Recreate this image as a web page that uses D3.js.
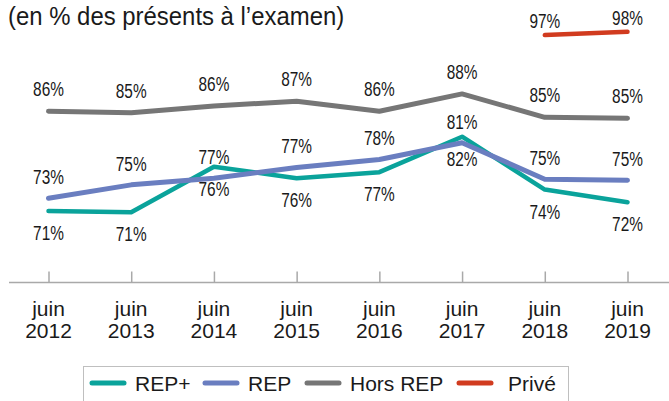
<!DOCTYPE html>
<html>
<head>
<meta charset="utf-8">
<script src="https://cdn.jsdelivr.net/npm/d3@7"></script>
<style>
  html, body { margin: 0; padding: 0; background: #fff; }
  svg { display: block; }
  text { font-family: "Liberation Sans", Arial, sans-serif; fill: #1a1a1a; }
</style>
</head>
<body>
<svg id="chart" width="669" height="401"></svg>
<script>
// ---- data ----
const years = ["2012", "2013", "2014", "2015", "2016", "2017", "2018", "2019"];
const monthLabel = "juin";
const repPlus = [70.7, 70.5, 77.3, 75.6, 76.5, 81.8, 73.9, 72.0];
const rep = [72.6, 74.6, 75.6, 77.2, 78.4, 80.9, 75.45, 75.3];
const horsRep = [85.6, 85.4, 86.4, 87.1, 85.6, 88.2, 84.7, 84.55];
const prive = [null, null, null, null, null, null, 97.0, 97.5];
const repPlusLabels = ["71%", "71%", "76%", "76%", "77%", "82%", "74%", "72%"];
const repLabels = ["73%", "75%", "77%", "77%", "78%", "81%", "75%", "75%"];
const horsRepLabels = ["86%", "85%", "86%", "87%", "86%", "88%", "85%", "85%"];
const priveLabels = [null, null, null, null, null, null, "97%", "98%"];
const seriesNames = ["REP+", "REP", "Hors REP", "Privé"];
const title = "(en % des présents à l\u2019examen)";
const yDomain = [60, 100];

// ---- layout ----
const svg = d3.select("#chart");
const x = d3.scalePoint().domain(years).range([48.5, 627.5]);
const y = d3.scaleLinear().domain(yDomain).range([282.5, 15]);

const series = [
  { name: seriesNames[0], values: repPlus, labels: repPlusLabels, color: "#0AA39B", width: 4.5, dy: 29 },
  { name: seriesNames[1], values: rep, labels: repLabels, color: "#6A7EC0", width: 5, dy: -14 },
  { name: seriesNames[2], values: horsRep, labels: horsRepLabels, color: "#767676", width: 5, dy: -15 },
  { name: seriesNames[3], values: prive, labels: priveLabels, color: "#D13B1F", width: 4.5, dy: -7 }
];

// title
svg.append("text").attr("transform", "translate(8,25) scale(0.92,1)")
  .attr("font-size", 26).text(title);

// x axis
const axis = d3.axisBottom(x).tickSize(-11).tickFormat("");
const gx = svg.append("g").attr("transform", "translate(0,282.5)").call(axis);
gx.select(".domain").remove();
gx.selectAll(".tick line").attr("stroke", "#A9A9A9").attr("stroke-width", 1.5);
gx.append("line").attr("x1", 9).attr("x2", 669).attr("y1", 0).attr("y2", 0)
  .attr("stroke", "#A9A9A9").attr("stroke-width", 1.5);

const xl = svg.append("g");
years.forEach(yr => {
  const t = xl.append("text").attr("text-anchor", "middle").attr("font-size", 21);
  t.append("tspan").attr("x", x(yr)).attr("y", 316).text(monthLabel);
  t.append("tspan").attr("x", x(yr)).attr("y", 338).text(yr);
});

// lines
const line = d3.line()
  .defined(d => d.v != null)
  .x(d => x(d.year))
  .y(d => y(d.v));

series.forEach(s => {
  const pts = years.map((yr, i) => ({ year: yr, v: s.values[i], label: s.labels[i] }));
  svg.append("path").datum(pts)
    .attr("fill", "none")
    .attr("stroke", s.color)
    .attr("stroke-width", s.width)
    .attr("stroke-linecap", "round")
    .attr("stroke-linejoin", "round")
    .attr("d", line);
});

// labels
series.forEach(s => {
  const pts = years.map((yr, i) => ({ year: yr, v: s.values[i], label: s.labels[i] })).filter(d => d.v != null);
  svg.append("g").selectAll("text").data(pts).join("text")
    .attr("transform", d => `translate(${x(d.year)},${y(d.v) + s.dy}) scale(0.77,1)`)
    .attr("text-anchor", "middle")
    .attr("font-size", 20)
    .text(d => d.label);
});

// legend
const lg = svg.append("g");
lg.append("rect").attr("x", 83.5).attr("y", 366.5).attr("width", 485).attr("height", 45)
  .attr("fill", "#fff").attr("stroke", "#BFBFBF").attr("stroke-width", 1);
const legendX = [90, 203, 305, 457];
series.forEach((s, i) => {
  lg.append("line").attr("x1", legendX[i] + 2).attr("x2", legendX[i] + 34)
    .attr("y1", 383).attr("y2", 383)
    .attr("stroke", s.color).attr("stroke-width", 5).attr("stroke-linecap", "round");
  lg.append("text").attr("x", legendX[i] + (i === 3 ? 51 : 45)).attr("y", 391)
    .attr("font-size", 21).text(s.name);
});
</script>
</body>
</html>
